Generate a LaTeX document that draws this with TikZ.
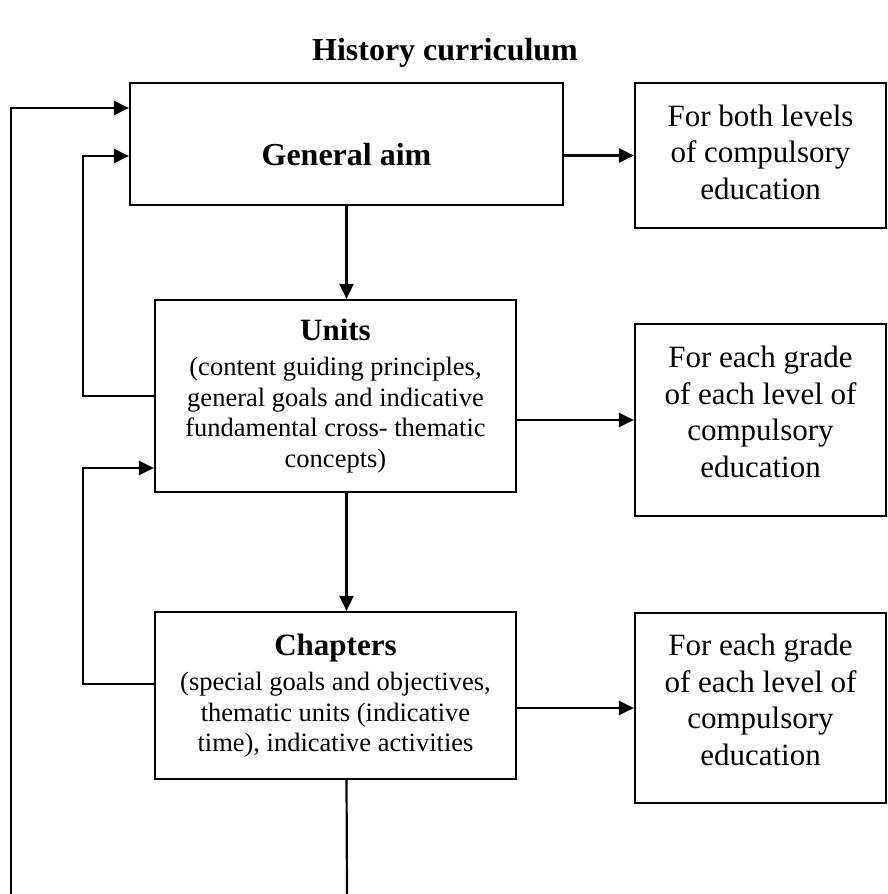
\documentclass[tikz,border=0pt]{standalone}
\usepackage{fontspec}
\setmainfont{Liberation Serif}
\usetikzlibrary{arrows.meta}

\tikzset{
  box/.style={draw, line width=2.2pt, inner sep=0pt, align=center},
  bigtxt/.style={font=\fontsize{31}{36.7}\selectfont},
  smalltxt/.style={font=\fontsize{26.5}{30.5}\selectfont},
  conn/.style={line width=2.2pt},
  arr/.style={conn, -{Triangle[length=15pt,width=14pt]}},
}

\begin{document}
\begin{tikzpicture}[x=1pt, y=-1pt]
  \useasboundingbox (0,0) rectangle (888,894);

  % title
  \node[font=\fontsize{32}{36}\selectfont\bfseries] (title) at (445,53) {History curriculum};

  % main chain of boxes
  \node[box, minimum width=433pt, minimum height=122pt] (aim) at (346.5,144) {};
  \node[font=\fontsize{32}{36}\selectfont\bfseries] (aimtxt) at (346.5,155) {General aim};

  \node[box, smalltxt, minimum width=361pt, minimum height=192pt] (units) at (335.5,396)
    {{\fontsize{31}{33}\selectfont\bfseries Units}\\[5pt]
     (content guiding principles,\\
     general goals and indicative\\
     fundamental cross- thematic\\
     concepts)};

  \node[box, smalltxt, minimum width=361pt, minimum height=167pt] (chap) at (335.5,695.5)
    {{\fontsize{31}{33}\selectfont\bfseries Chapters}\\[5pt]
     (special goals and objectives,\\
     thematic units (indicative\\
     time), indicative activities};

  % scope boxes on the right
  \node[box, bigtxt, minimum width=251pt, minimum height=145pt] (r1) at (760.5,155.5)
    {For both levels\\ of compulsory\\ education\\[-30pt]};
  \node[box, bigtxt, minimum width=251pt, minimum height=192pt] (r2) at (760.5,420)
    {For each grade\\ of each level of\\ compulsory\\ education\\[-20pt]};
  \node[box, bigtxt, minimum width=251pt, minimum height=190pt] (r3) at (760.5,708)
    {For each grade\\ of each level of\\ compulsory\\ education\\[-20pt]};

  % helper points for the feedback lanes
  \coordinate (fbU)    at (83,396);
  \coordinate (fbUtop) at (83,156);
  \coordinate (fbC)    at (83,684);
  \coordinate (fbCtop) at (83,468);
  \coordinate (outB)   at (11,894);
  \coordinate (outT)   at (11,108);
  \coordinate (downB)  at (347,894);

  % downward flow
  \draw[arr] (aim.south) -- (aim.south |- units.north);
  \draw[arr] (aim.south |- units.south) -- (aim.south |- chap.north);
  \draw[conn] (aim.south |- chap.south) -- (downB);

  % to the scope boxes
  \draw[arr] (aim.east |- r1.west) -- (r1.west);
  \draw[arr] (units.east |- r2.west) -- (r2.west);
  \draw[arr] (chap.east |- r3.west) -- (r3.west);

  % feedback loops
  \draw[arr] (units.west |- fbU) -- (fbU) -- (fbUtop) -- (aim.west |- fbUtop);
  \draw[arr] (chap.west |- fbC) -- (fbC) -- (fbCtop) -- (units.west |- fbCtop);
  \draw[arr] (outB) -- (outT) -- (aim.west |- outT);
\end{tikzpicture}
\end{document}
